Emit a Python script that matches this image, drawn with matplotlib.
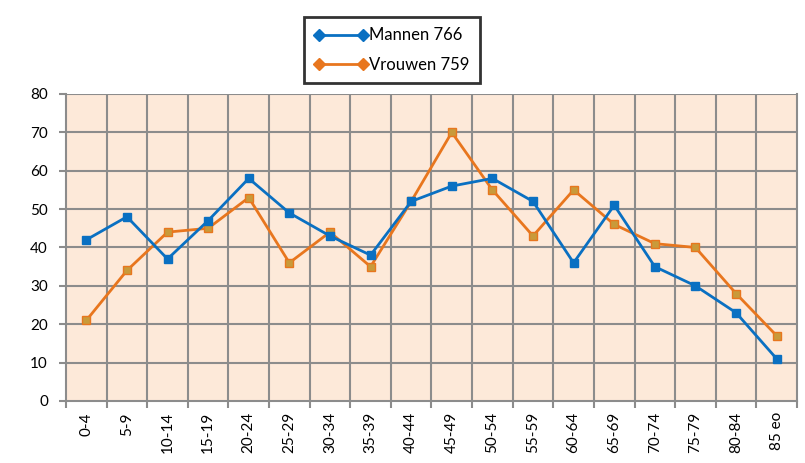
import matplotlib
matplotlib.use("Agg")
import matplotlib.pyplot as plt
from matplotlib.lines import Line2D
import numpy as np

plt.rcParams["font.family"] = ["Lato", "DejaVu Sans"]

categories = ["0-4", "5-9", "10-14", "15-19", "20-24", "25-29", "30-34", "35-39",
              "40-44", "45-49", "50-54", "55-59", "60-64", "65-69", "70-74",
              "75-79", "80-84", "85 eo"]
mannen = [42, 48, 37, 47, 58, 49, 43, 38, 52, 56, 58, 52, 36, 51, 35, 30, 23, 11]
vrouwen = [21, 34, 44, 45, 53, 36, 44, 35, 52, 70, 55, 43, 55, 46, 41, 40, 28, 17]
yticks = [0, 10, 20, 30, 40, 50, 60, 70, 80]

blue = "#0A70C2"
orange = "#E8761E"
grid_c = "#8C8C8C"

fig = plt.figure(figsize=(8.05, 4.63), dpi=100)
fig.patch.set_facecolor("white")
ax = fig.add_axes([0.082, 0.134, 0.908, 0.663])
ax.set_facecolor("#FDE9D9")

x = np.arange(len(categories))
ax.plot(x, mannen, color=blue, lw=2, marker="s", ms=5.5, mfc=blue, mec=blue, zorder=4)
ax.plot(x, vrouwen, color=orange, lw=2, marker="s", ms=5.5, mfc="#C99A3A", mec=orange, zorder=3)

ax.set_xlim(-0.5, len(categories) - 0.5)
ax.set_ylim(0, 80)
ax.set_yticks(yticks)
ax.set_xticks(x)
ax.set_xticklabels(categories, rotation=90, fontsize=11)
ax.tick_params(axis="x", length=0, pad=8)
ax.set_xticks(np.arange(-0.5, len(categories)), minor=True)
ax.tick_params(axis="x", which="minor", length=5, width=1.5, color=grid_c, direction="out")
ax.tick_params(axis="y", length=5, width=1.5, color=grid_c, direction="out", labelsize=11, pad=8)

ax.grid(False)
for yv in yticks[1:]:
    ax.axhline(yv, color=grid_c, lw=1.5, zorder=1)
for xv in np.arange(0.5, len(categories) - 0.5):
    ax.axvline(xv, color=grid_c, lw=1.5, zorder=1)
ax.spines["top"].set_visible(False)
for s in ["left", "bottom", "right"]:
    ax.spines[s].set_color(grid_c)
    ax.spines[s].set_linewidth(1.5)

handles = [
    Line2D([], [], color=blue, lw=2, marker="D", ms=6, mfc=blue, mec=blue),
    Line2D([], [], color=orange, lw=2, marker="D", ms=6, mfc=orange, mec=orange),
]
leg = fig.legend(handles, ["Mannen 766", "Vrouwen 759"], loc="center",
                 bbox_to_anchor=(0.487, 0.892), numpoints=2, fontsize=12,
                 frameon=True, fancybox=False, handlelength=3.2, handletextpad=0.1,
                 borderpad=0.6, labelspacing=0.8, borderaxespad=0)
leg.get_frame().set_edgecolor("black")
leg.get_frame().set_linewidth(2)

fig.savefig("out.png", dpi=100, facecolor="white")
